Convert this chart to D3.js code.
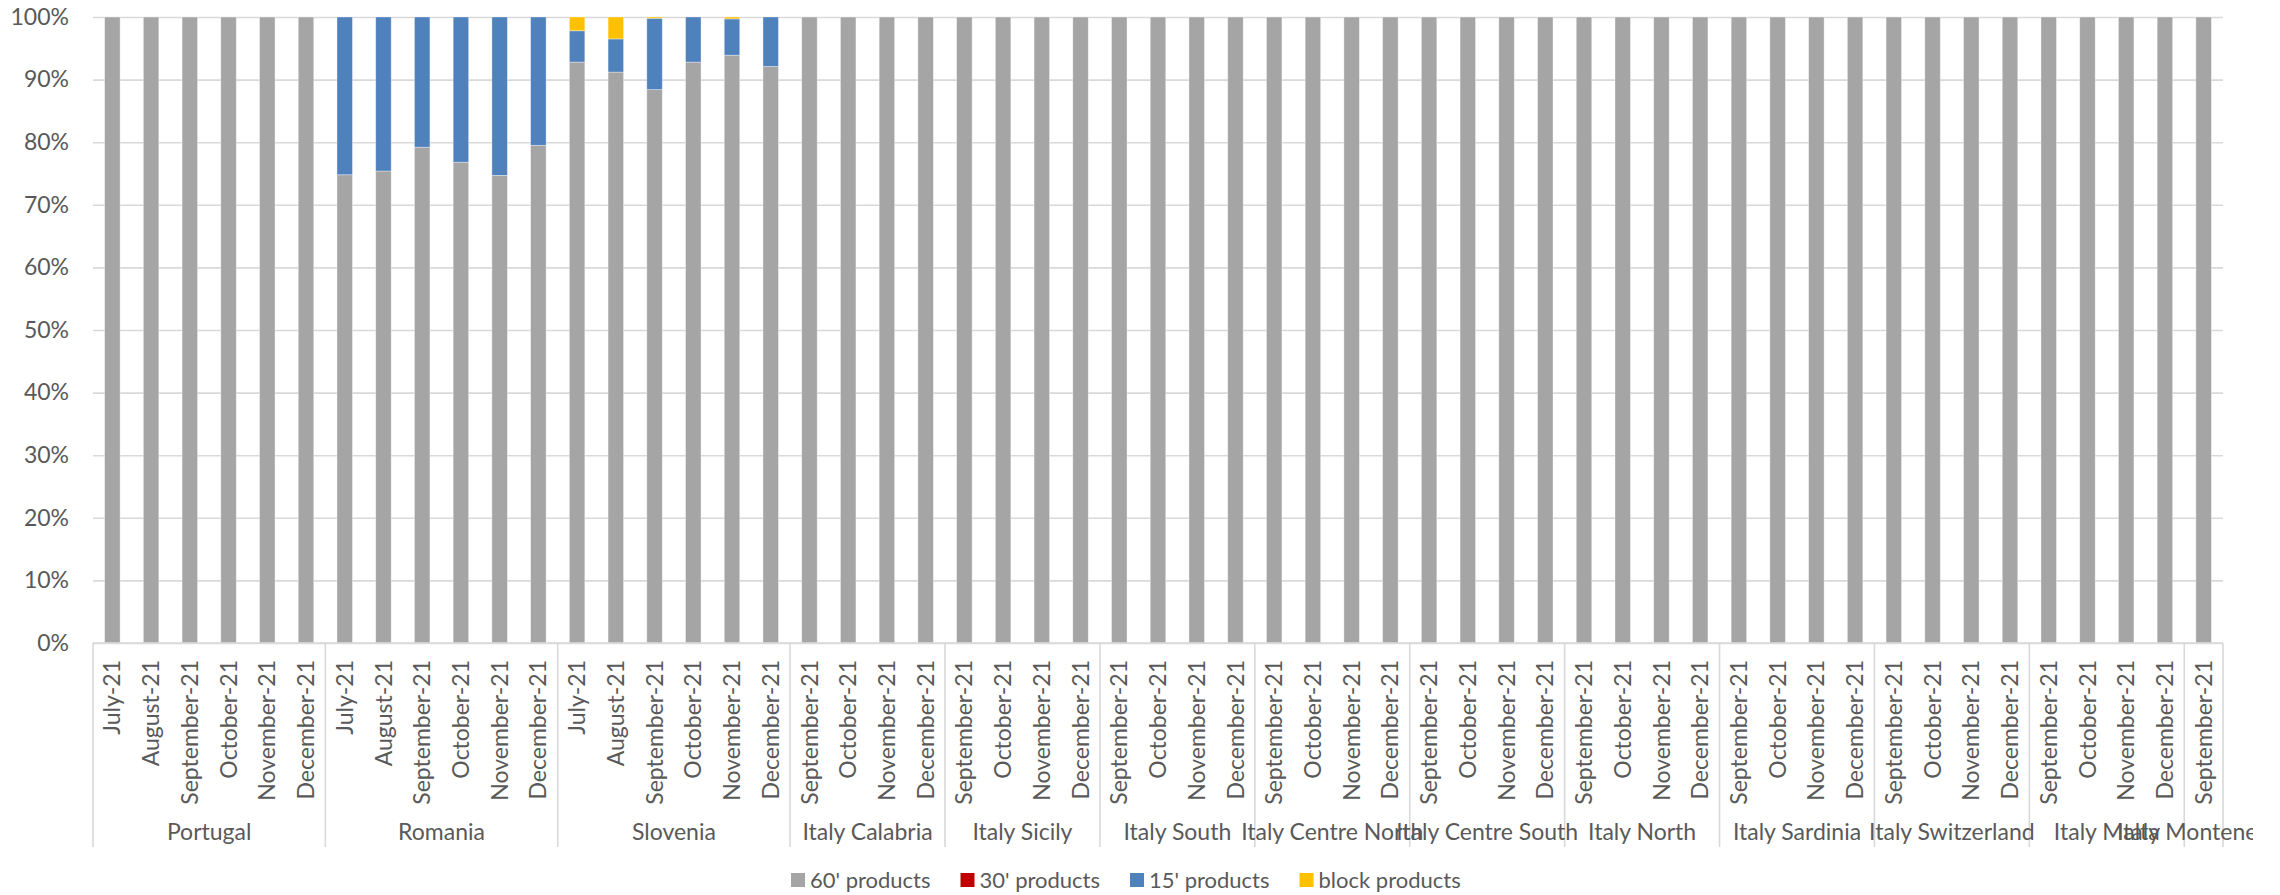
<!DOCTYPE html>
<html>
<head>
<meta charset="utf-8">
<script src="https://cdn.jsdelivr.net/npm/d3@7"></script>
<style>
    body { margin: 0; background: #fff; }
    text { font-family: Lato, "Open Sans", sans-serif; fill: #595959; }
</style>
</head>
<body>
<svg id="chart" width="2280" height="895"></svg>
<script>
// categories: country / region groups and their months
const groups = ["Portugal", "Romania", "Slovenia", "Italy Calabria", "Italy Sicily", "Italy South",
    "Italy Centre North", "Italy Centre South", "Italy North", "Italy Sardinia",
    "Italy Switzerland", "Italy Malta", "Italy Montenegro"];
const halfYear = ["July-21", "August-21", "September-21", "October-21", "November-21", "December-21"];
const lastFour = ["September-21", "October-21", "November-21", "December-21"];
const groupMonths = [halfYear, halfYear, halfYear, lastFour, lastFour, lastFour,
    lastFour, lastFour, lastFour, lastFour, lastFour, lastFour, ["September-21"]];

// series values (% share), one value per bar, in group order
const p60 = [
    100, 100, 100, 100, 100, 100,
    74.8, 75.4, 79.2, 76.8, 74.7, 79.5,
    92.8, 91.2, 88.4, 92.8, 93.9, 92.1,
    100, 100, 100, 100,  100, 100, 100, 100,  100, 100, 100, 100,
    100, 100, 100, 100,  100, 100, 100, 100,  100, 100, 100, 100,
    100, 100, 100, 100,  100, 100, 100, 100,  100, 100, 100, 100,
    100
];
const p30 = [
    0, 0, 0, 0, 0, 0,
    0, 0, 0, 0, 0, 0,
    0, 0, 0, 0, 0, 0,
    0, 0, 0, 0,  0, 0, 0, 0,  0, 0, 0, 0,
    0, 0, 0, 0,  0, 0, 0, 0,  0, 0, 0, 0,
    0, 0, 0, 0,  0, 0, 0, 0,  0, 0, 0, 0,
    0
];
const p15 = [
    0, 0, 0, 0, 0, 0,
    25.2, 24.6, 20.8, 23.2, 25.3, 20.5,
    5.0, 5.3, 11.4, 7.2, 5.8, 7.9,
    0, 0, 0, 0,  0, 0, 0, 0,  0, 0, 0, 0,
    0, 0, 0, 0,  0, 0, 0, 0,  0, 0, 0, 0,
    0, 0, 0, 0,  0, 0, 0, 0,  0, 0, 0, 0,
    0
];
const pBlock = [
    0, 0, 0, 0, 0, 0,
    0, 0, 0, 0, 0, 0,
    2.2, 3.5, 0.2, 0, 0.3, 0,
    0, 0, 0, 0,  0, 0, 0, 0,  0, 0, 0, 0,
    0, 0, 0, 0,  0, 0, 0, 0,  0, 0, 0, 0,
    0, 0, 0, 0,  0, 0, 0, 0,  0, 0, 0, 0,
    0
];
const seriesNames = ["60' products", "30' products", "15' products", "block products"];
const seriesColors = ["#A5A5A5", "#C00000", "#4F81BD", "#FFC000"];
const yTicks = [0, 10, 20, 30, 40, 50, 60, 70, 80, 90, 100];

// flat rows, one per bar
const rows = [];
groups.forEach((g, gi) => {
    groupMonths[gi].forEach(m => {
        const i = rows.length;
        rows.push({
            id: i, group: g, month: m,
            "60' products": p60[i], "30' products": p30[i],
            "15' products": p15[i], "block products": pBlock[i]
        });
    });
});

const svg = d3.select("#chart");
const margin = { top: 17, right: 57, bottom: 252, left: 93 };
const width = 2280, height = 895;
const chartWidth = width - margin.left - margin.right;
const chartHeight = height - margin.top - margin.bottom;

const g = svg.append("g")
    .attr("transform", `translate(${margin.left},${margin.top})`);

const x = d3.scaleBand()
    .domain(rows.map(d => d.id))
    .range([0, chartWidth])
    .paddingInner(0.6)
    .paddingOuter(0.3);

const y = d3.scaleLinear()
    .domain([0, 100])
    .range([chartHeight, 0]);

// gridlines + y labels
const yAxis = g.append("g")
    .call(d3.axisLeft(y).tickValues(yTicks).tickSize(-chartWidth).tickPadding(24).tickFormat(d => d + "%"));
yAxis.select(".domain").remove();
yAxis.selectAll(".tick line").attr("stroke", "#D9D9D9").attr("stroke-width", 1.6);
yAxis.selectAll(".tick text").style("font-size", "23px").attr("fill", "#595959");

// stacked bars
const stack = d3.stack().keys(seriesNames)(rows);
const color = d3.scaleOrdinal().domain(seriesNames).range(seriesColors);

g.selectAll(".series")
    .data(stack)
    .enter()
    .append("g")
    .attr("fill", d => color(d.key))
    .selectAll("rect")
    .data(d => d)
    .enter()
    .append("rect")
    .attr("x", d => x(d.data.id))
    .attr("width", x.bandwidth())
    .attr("y", d => y(d[1]))
    .attr("height", d => y(d[0]) - y(d[1]))
    .attr("stroke", "#fff")
    .attr("stroke-opacity", 0.45)
    .attr("stroke-width", 0.8);

// category axis line
g.append("line")
    .attr("x1", 0).attr("x2", chartWidth)
    .attr("y1", chartHeight).attr("y2", chartHeight)
    .attr("stroke", "#D9D9D9").attr("stroke-width", 1.6);

// month labels (rotated)
g.selectAll(".month")
    .data(rows)
    .enter()
    .append("text")
    .attr("transform", d => `translate(${x(d.id) + x.bandwidth() / 2},${chartHeight + 17}) rotate(-90)`)
    .attr("text-anchor", "end")
    .attr("dy", "0.35em")
    .style("font-size", "23px")
    .text(d => d.month);

// group separators and labels
const bounds = [];
let start = 0;
groups.forEach((grp, gi) => {
    bounds.push({ name: grp, from: start, to: start + groupMonths[gi].length });
    start += groupMonths[gi].length;
});
const step = x.step();
const edgeX = i => i === rows.length ? chartWidth : x(i) - step * x.paddingInner() / 2;

g.selectAll(".sep")
    .data([0].concat(bounds.map(b => b.to)))
    .enter()
    .append("line")
    .attr("x1", d => d === 0 ? 0 : edgeX(d))
    .attr("x2", d => d === 0 ? 0 : edgeX(d))
    .attr("y1", chartHeight)
    .attr("y2", chartHeight + 204)
    .attr("stroke", "#D9D9D9").attr("stroke-width", 1.6);

svg.append("clipPath").attr("id", "clip")
    .append("rect").attr("x", 0).attr("y", 0).attr("width", 2253).attr("height", height);

svg.append("g")
    .attr("clip-path", "url(#clip)")
    .selectAll("text")
    .data(bounds)
    .enter()
    .append("text")
    .attr("x", d => margin.left + ((d.from === 0 ? 0 : edgeX(d.from)) + edgeX(d.to)) / 2)
    .attr("y", margin.top + chartHeight + 197)
    .attr("text-anchor", "middle")
    .style("font-size", "23px")
    .text(d => d.name);

// legend
const legend = svg.append("g").attr("transform", "translate(791,880)");
let lx = 0;
seriesNames.forEach((name, i) => {
    const item = legend.append("g").attr("transform", `translate(${lx},0)`);
    item.append("rect")
        .attr("x", 0).attr("y", -7)
        .attr("width", 14).attr("height", 14)
        .attr("fill", seriesColors[i]);
    const t = item.append("text")
        .attr("x", 19).attr("dy", "0.35em")
        .style("font-size", "22px")
        .text(name);
    lx += 19 + t.node().getComputedTextLength() + 30;
});
</script>
</body>
</html>
